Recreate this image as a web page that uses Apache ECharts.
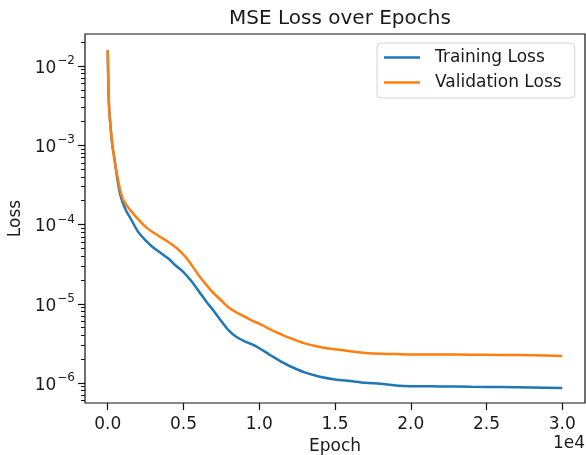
<!DOCTYPE html>
<html>
<head>
<meta charset="utf-8">
<script src="https://cdn.jsdelivr.net/npm/echarts@6/dist/echarts.min.js"></script>
<style>
html,body{margin:0;padding:0;background:#fff;}
#chart{width:586px;height:455px;}
</style>
</head>
<body>
<div id="chart"></div>
<script>
const epochs = [0,50,100,200,300,400,500,600,700,800,1000,1250,1500,2000,2500,3000,3500,4000,4500,5000,5500,6000,6500,7000,7500,8000,8500,9000,9500,10000,10500,11000,11500,12000,13000,14000,15000,16000,17000,18000,19000,20000,22000,24000,26000,28000,30000];
const trainingLoss = [1.585e-2,5.01e-3,2.82e-3,1.585e-3,1.02e-3,7.59e-4,5.62e-4,4.17e-4,3.16e-4,2.51e-4,1.86e-4,1.45e-4,1.20e-4,8.13e-5,6.31e-5,5.13e-5,4.37e-5,3.72e-5,3.02e-5,2.51e-5,1.95e-5,1.45e-5,1.07e-5,8.13e-6,6.03e-6,4.57e-6,3.80e-6,3.39e-6,3.09e-6,2.75e-6,2.40e-6,2.09e-6,1.84e-6,1.64e-6,1.36e-6,1.20e-6,1.11e-6,1.06e-6,1.01e-6,9.77e-7,9.33e-7,9.12e-7,9.06e-7,8.97e-7,8.91e-7,8.81e-7,8.65e-7];
const validationLoss = [1.585e-2,5.01e-3,2.82e-3,1.585e-3,1.02e-3,7.59e-4,5.75e-4,4.37e-4,3.55e-4,2.82e-4,2.09e-4,1.74e-4,1.51e-4,1.17e-4,9.33e-5,7.94e-5,6.92e-5,6.03e-5,5.13e-5,4.17e-5,3.16e-5,2.29e-5,1.74e-5,1.35e-5,1.10e-5,8.91e-6,7.76e-6,6.92e-6,6.17e-6,5.62e-6,5.01e-6,4.47e-6,4.07e-6,3.72e-6,3.16e-6,2.85e-6,2.66e-6,2.51e-6,2.40e-6,2.34e-6,2.32e-6,2.29e-6,2.29e-6,2.28e-6,2.26e-6,2.24e-6,2.19e-6];
const xTicks = [0,5000,10000,15000,20000,25000,30000];
const yDecades = [-6,-5,-4,-3,-2];

const FONT = "'DejaVu Sans', sans-serif";
const TXT = '#1a1a1a';
const Y_MIN = -6.252, Y_MAX = -1.596;

const minorLogs = [];
for (let n = -7; n <= -2; n++) {
  for (let k = 2; k <= 9; k++) {
    const v = Math.log10(k) + n;
    if (v >= Y_MIN && v <= Y_MAX) minorLogs.push(v);
  }
}
const toPairs = (arr) => arr.map((v, i) => [epochs[i], Math.log10(v)]);

const chart = echarts.init(document.getElementById('chart'), null, {renderer: 'canvas'});
chart.setOption({
  animation: false,
  backgroundColor: '#fff',
  title: {
    text: 'MSE Loss over Epochs',
    left: 335, top: 4, textAlign: 'center',
    textStyle: {fontFamily: FONT, fontSize: 20, fontWeight: 'normal', color: TXT}
  },
  legend: {
    orient: 'vertical',
    left: 377, top: 43,
    padding: [6, 13, 7, 7],
    itemGap: 8,
    itemWidth: 36, itemHeight: 2.6,
    icon: 'rect',
    borderColor: '#d4d4d4', borderWidth: 1, borderRadius: 4,
    backgroundColor: 'rgba(255,255,255,0.8)',
    textStyle: {fontFamily: FONT, fontSize: 17, color: TXT, padding: [0, 0, 0, 10]},
    data: ['Training Loss', 'Validation Loss']
  },
  grid: {
    left: 85, top: 34, width: 500, height: 369,
    outerBoundsMode: 'none', containLabel: false,
    show: true, borderColor: '#111', borderWidth: 1.2, backgroundColor: 'transparent'
  },
  xAxis: {
    type: 'value', min: -1500, max: 31500,
    name: 'Epoch', nameLocation: 'middle', nameGap: 35,
    nameTextStyle: {fontFamily: FONT, fontSize: 17, color: TXT},
    axisLine: {show: false, onZero: false},
    splitLine: {show: false},
    axisTick: {show: true, length: 7, lineStyle: {color: '#111', width: 1.2}, customValues: xTicks},
    axisLabel: {
      customValues: xTicks, margin: 13,
      fontFamily: FONT, fontSize: 17, color: TXT,
      formatter: (v) => (v / 10000).toFixed(1)
    }
  },
  yAxis: [{
    type: 'value', min: Y_MIN, max: Y_MAX,
    name: 'Loss', nameLocation: 'middle', nameGap: 60,
    nameTextStyle: {fontFamily: FONT, fontSize: 17, color: TXT},
    axisLine: {show: false, onZero: false},
    splitLine: {show: false},
    axisTick: {show: true, length: 7, lineStyle: {color: '#111', width: 1.2}, customValues: yDecades},
    axisLabel: {
      customValues: yDecades, margin: 10,
      formatter: (v) => '{b|10}{s|\u2212' + Math.round(-v) + '}',
      rich: {
        b: {fontFamily: FONT, fontSize: 17, color: TXT, verticalAlign: 'bottom', lineHeight: 22},
        s: {fontFamily: FONT, fontSize: 12, color: TXT, verticalAlign: 'top', lineHeight: 12, padding: [0, 0, 0, 1]}
      }
    }
  }, {
    type: 'value', min: Y_MIN, max: Y_MAX, position: 'left',
    axisLine: {show: false, onZero: false},
    splitLine: {show: false},
    axisTick: {show: true, length: 4, lineStyle: {color: '#111', width: 1}, customValues: minorLogs},
    axisLabel: {show: false}
  }],
  series: [{
    name: 'Training Loss', type: 'line', data: toPairs(trainingLoss),
    showSymbol: false, smooth: 0.3, color: '#1f77b4',
    lineStyle: {width: 2.5, color: '#1f77b4'}
  }, {
    name: 'Validation Loss', type: 'line', data: toPairs(validationLoss),
    showSymbol: false, smooth: 0.3, color: '#ff7f0e',
    lineStyle: {width: 2.5, color: '#ff7f0e'}
  }],
  graphic: [{
    type: 'text', right: 1, top: 435,
    style: {text: '1e4', fontFamily: FONT, fontSize: 17, fill: TXT}
  }]
});
</script>
</body>
</html>
